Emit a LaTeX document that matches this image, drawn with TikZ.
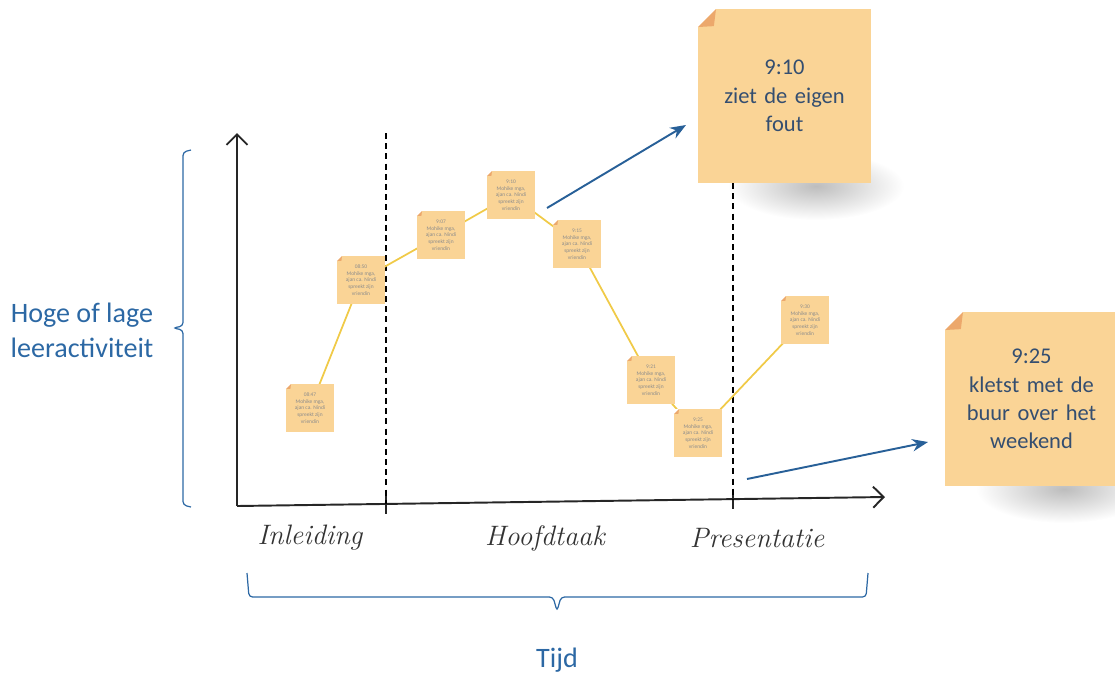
\documentclass[tikz,border=0pt]{standalone}
\usepackage{fontspec}
\usepackage{xcolor}
\usepackage{tikz}
\usetikzlibrary{arrows.meta}
\newfontfamily\calibri{Carlito}
\definecolor{notefill}{RGB}{250,212,150}
\definecolor{notefold}{RGB}{236,168,108}
\definecolor{labelblue}{RGB}{44,104,164}
\definecolor{notetext}{RGB}{52,78,112}
\definecolor{arrowblue}{RGB}{40,96,152}
\definecolor{trailyellow}{RGB}{240,202,72}
\tikzset{
  axis/.style    = { line width=1.1pt, black!85, -{Straight Barb[length=6pt,width=12pt,line width=1.1pt]} },
  tick/.style    = { line width=1pt, black!85 },
  phase/.style   = { line width=0.6pt, dash pattern=on 3.4pt off 2.4pt },
  bracket/.style = { line width=0.7pt, labelblue, rounded corners=2pt },
  trail/.style   = { line width=1pt, trailyellow },
  pointer/.style = { line width=1.1pt, arrowblue, -{Stealth[length=9pt,width=7pt]} },
  shadow/.style  = { inner color=black!26, outer color=white },
  fold/.style    = { path picture={
      \fill[white] (path picture bounding box.north west) -- ++(#1,0) -- ++(-#1,-#1) -- cycle;
      \fill[notefold] ([yshift=-#1]path picture bounding box.north west) -- ++(#1,#1) -- ++(-0.12*#1,-0.95*#1) -- cycle;} },
  memo/.style    = { fill=notefill, minimum width=0.96cm, minimum height=0.96cm, inner sep=0pt,
                     fold=0.1cm, align=center, font=\calibri\fontsize{3.1}{3.8}\selectfont, text=black!45 },
  bignote/.style = { fill=notefill, minimum width=3.46cm, minimum height=3.48cm, inner sep=0pt,
                     fold=0.36cm, align=center, text width=3.2cm, text=notetext,
                     font=\calibri\fontsize{12.8}{16.2}\selectfont },
  hand/.style    = { font=\itshape\fontsize{16}{19}\selectfont, text=black!80 },
  caption/.style = { font=\calibri\fontsize{16}{19.8}\selectfont, text=labelblue, align=center }
}
\newcommand\memotext[1]{#1\\ Mohike mga,\\ ajan ca. Nindi\\ spreekt zijn\\ vriendin}

\begin{document}
\begin{tikzpicture}[x=0.02cm,y=-0.02cm]
  \useasboundingbox (0,0) rectangle (1115,674);
  % Draw shadows of the big notes
  \shade[shadow] (816,186) ellipse (88 and 34);
  \shade[shadow] (1064,489) ellipse (88 and 34);
  % Draw axes
  \coordinate (origin) at (237,506);
  \draw[axis] (origin) -- (237,133);
  \draw[axis] (origin) -- (885,497);
  \draw[tick] (386,495) -- (386,514);
  \draw[tick] (733,490) -- (733,509);
  % Draw phase borders
  \draw[phase] (386,133) -- (386,504);
  \draw[phase] (733,183) -- (733,499);
  % Draw phase labels
  \node[hand] (inl)  at (310,538) {Inleiding};
  \node[hand] (hoof) at (545,538) {Hoofdtaak};
  \node[hand] (pres) at (757,538) {Presentatie};
  % Draw brackets and their labels
  \draw[bracket] (191,150) -- (183,152) -- (183,326) -- (173,328) -- (183,330) -- (183,505) -- (191,507);
  \draw[bracket] (247,573) -- (249,597) -- (553,597) -- (557,611) -- (561,597) -- (866,597) -- (868,573);
  \node[caption] (activity) at (82,330) {Hoge of lage\\leeractiviteit};
  \node[caption] (time) at (557,660) {Tijd};
  % Draw activity trail and small notes
  \coordinate (p1) at (310,408);
  \coordinate (p2) at (361,280);
  \coordinate (p3) at (441,235);
  \coordinate (p4) at (511,195);
  \coordinate (p5) at (577,244);
  \coordinate (p6) at (651,380);
  \coordinate (p7) at (698,433);
  \coordinate (p8) at (805,320);
  \draw[trail] (p1) -- (p2) -- (p3) -- (p4) -- (p5) -- (p6) -- (p7) -- (p8);
  \node[memo] (n1) at (p1) {\memotext{08:47}};
  \node[memo] (n2) at (p2) {\memotext{08:50}};
  \node[memo] (n3) at (p3) {\memotext{9:07}};
  \node[memo] (n4) at (p4) {\memotext{9:10}};
  \node[memo] (n5) at (p5) {\memotext{9:15}};
  \node[memo] (n6) at (p6) {\memotext{9:21}};
  \node[memo] (n7) at (p7) {\memotext{9:25}};
  \node[memo] (n8) at (p8) {\memotext{9:30}};
  % Draw annotations
  \node[bignote] (fout) at (784.5,96) {9:10\\ziet de eigen\\fout};
  \node[bignote] (buur) at (1031.5,399) {9:25\\kletst met de\\buur over het\\weekend};
  \coordinate (from1) at (547,208);
  \coordinate (to1)   at (686,125);
  \coordinate (from2) at (747,479);
  \coordinate (to2)   at (928,442);
  \draw[pointer] (from1) -- (to1);
  \draw[pointer] (from2) -- (to2);
\end{tikzpicture}
\end{document}
